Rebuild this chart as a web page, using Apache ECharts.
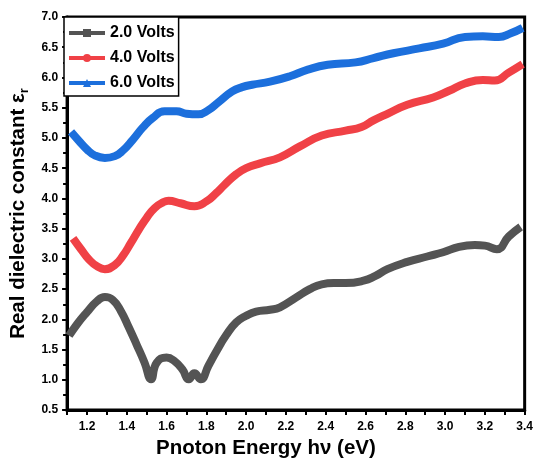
<!DOCTYPE html>
<html>
<head>
<meta charset="utf-8">
<script src="https://cdn.jsdelivr.net/npm/echarts@6/dist/echarts.min.js"></script>
<style>
  html, body { margin: 0; padding: 0; background: #fff; }
  #main { width: 536px; height: 464px; }
</style>
</head>
<body>
<div id="main"></div>
<script>
// photon energy (eV) and real dielectric constant for each applied voltage
const grayE = [1.11, 1.15, 1.20, 1.25, 1.29, 1.33, 1.37, 1.41, 1.45, 1.49, 1.522, 1.55, 1.60, 1.64, 1.68, 1.712, 1.74, 1.772, 1.81, 1.85, 1.90, 1.95, 2.00, 2.05, 2.12, 2.17, 2.25, 2.32, 2.38, 2.44, 2.50, 2.59, 2.65, 2.71, 2.81, 2.91, 2.99, 3.07, 3.15, 3.20, 3.26, 3.32, 3.38];
const grayV = [1.73, 1.92, 2.12, 2.30, 2.37, 2.32, 2.14, 1.87, 1.58, 1.28, 1.01, 1.28, 1.37, 1.31, 1.17, 1.01, 1.11, 1.01, 1.23, 1.47, 1.74, 1.95, 2.06, 2.13, 2.16, 2.20, 2.36, 2.50, 2.58, 2.60, 2.60, 2.64, 2.72, 2.83, 2.95, 3.04, 3.11, 3.20, 3.23, 3.22, 3.16, 3.37, 3.53];

const redE = [1.13, 1.17, 1.21, 1.25, 1.29, 1.34, 1.38, 1.42, 1.46, 1.50, 1.54, 1.58, 1.61, 1.67, 1.74, 1.80, 1.85, 1.89, 1.95, 2.00, 2.07, 2.17, 2.27, 2.38, 2.50, 2.58, 2.64, 2.71, 2.81, 2.94, 3.02, 3.10, 3.19, 3.25, 3.32, 3.39];
const redV = [3.34, 3.16, 2.99, 2.88, 2.83, 2.90, 3.05, 3.26, 3.48, 3.68, 3.84, 3.93, 3.96, 3.92, 3.87, 3.95, 4.09, 4.22, 4.40, 4.50, 4.58, 4.68, 4.86, 5.04, 5.12, 5.18, 5.29, 5.40, 5.55, 5.67, 5.78, 5.90, 5.96, 5.95, 6.08, 6.22];

const blueE = [1.12, 1.16, 1.20, 1.24, 1.29, 1.34, 1.38, 1.43, 1.48, 1.53, 1.59, 1.65, 1.70, 1.76, 1.81, 1.86, 1.93, 1.98, 2.03, 2.12, 2.22, 2.31, 2.41, 2.55, 2.64, 2.74, 2.87, 2.99, 3.10, 3.19, 3.27, 3.33, 3.39];
const blueV = [5.10, 4.95, 4.81, 4.71, 4.67, 4.70, 4.79, 4.97, 5.17, 5.33, 5.44, 5.44, 5.40, 5.39, 5.46, 5.59, 5.77, 5.84, 5.88, 5.93, 6.02, 6.13, 6.21, 6.25, 6.32, 6.40, 6.48, 6.56, 6.67, 6.68, 6.67, 6.73, 6.82];

const names = ['2.0 Volts', '4.0 Volts', '6.0 Volts'];
const colors = ['#545454', '#f04146', '#1c6fdc'];
const symbols = ['rect', 'circle', 'triangle'];

const pairs = (xs, ys) => xs.map((x, i) => [x, ys[i]]);
const allData = [pairs(grayE, grayV), pairs(redE, redV), pairs(blueE, blueV)];

const font = 'Liberation Sans, Arial, sans-serif';

let myChart = echarts.init(document.getElementById('main'));
myChart.setOption({
  animation: false,
  grid: {
    left: 64, right: 6, top: 17, bottom: 47,
    show: true, borderColor: '#000', borderWidth: 3
  },
  legend: {
    left: 64, top: 17,
    orient: 'vertical',
    padding: [8, 4, 5, 3],
    itemGap: 9,
    itemWidth: 36, itemHeight: 10,
    borderColor: '#000', borderWidth: 1.5,
    backgroundColor: '#fff',
    lineStyle: { width: 4 },
    textStyle: { fontFamily: font, fontWeight: 'bold', fontSize: 16, color: '#000' },
    data: names
  },
  xAxis: {
    type: 'value',
    min: 1.1, max: 3.4, interval: 0.1,
    name: 'Pnoton Energy hν (eV)',
    nameLocation: 'middle',
    nameGap: 24,
    nameTextStyle: { fontFamily: font, fontWeight: 'bold', fontSize: 20.5, color: '#000', padding: [0, 60, 0, 0] },
    axisLine: { lineStyle: { color: '#000', width: 3 } },
    axisTick: { length: 5, lineStyle: { color: '#000', width: 2 } },
    splitLine: { show: false },
    axisLabel: {
      margin: 11,
      fontFamily: font, fontWeight: 'bold', fontSize: 12, color: '#000',
      formatter: v => (Math.round(v * 10) % 2 === 0 ? v.toFixed(1) : '')
    }
  },
  yAxis: {
    type: 'value',
    min: 0.5, max: 7, interval: 0.5,
    name: '{m|Real dielectric constant ε}{s|r}',
    nameLocation: 'middle',
    nameGap: 36,
    nameTextStyle: {
      rich: {
        m: { fontFamily: font, fontWeight: 'bold', fontSize: 20.5, color: '#000' },
        s: { fontFamily: font, fontWeight: 'bold', fontSize: 13, color: '#000', padding: [11, 0, 0, 0] }
      }
    },
    axisLine: { lineStyle: { color: '#000', width: 3 } },
    axisTick: { length: 5, lineStyle: { color: '#000', width: 2 } },
    minorTick: { show: true, splitNumber: 2, length: 4, lineStyle: { color: '#000', width: 2 } },
    splitLine: { show: false },
    axisLabel: {
      margin: 9,
      fontFamily: font, fontWeight: 'bold', fontSize: 12, color: '#000',
      formatter: v => v.toFixed(1)
    }
  },
  series: names.map((n, i) => ({
    name: n,
    type: 'line',
    data: allData[i],
    smooth: 0.5,
    showSymbol: false,
    symbol: symbols[i],
    symbolSize: 9,
    color: colors[i],
    lineStyle: { width: 8, color: colors[i] },
    z: 3 - i
  }))
});
</script>
</body>
</html>
